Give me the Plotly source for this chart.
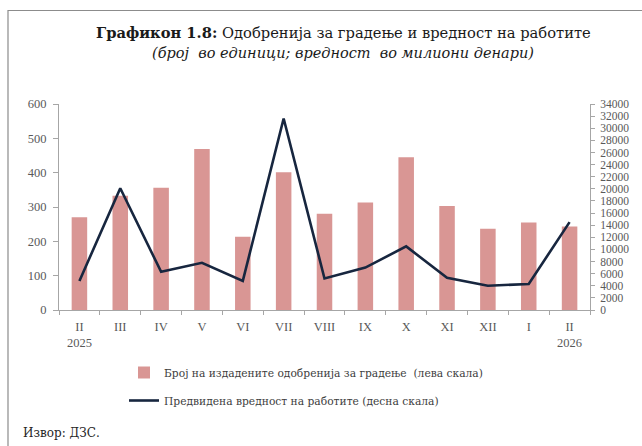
import plotly.graph_objects as go

categories = ["II<br>2025", "III", "IV", "V", "VI", "VII", "VIII", "IX", "X", "XI", "XII", "I", "II<br>2026"]
permits = [270, 333, 356, 469, 213, 401, 280, 313, 445, 303, 237, 255, 243]
value_mkd = [4800, 20100, 6300, 7800, 4800, 31600, 5200, 7000, 10500, 5300, 4000, 4300, 14500]

bar_name = "Број на издадените одобренија за градење  (лева скала)"
line_name = "Предвидена вредност на работите (десна скала)"

W, H = 642, 446
L, R, T, B = 59, 590, 104, 310

def px(x):
    return (x - L) / (R - L)

def py(y):
    return (B - y) / (B - T)

font_serif = "Liberation Serif, DejaVu Serif, serif"
font_wide = "DejaVu Serif, Liberation Serif, serif"
tick_col = "#595959"
axis_col = "#A6A6A6"

fig = go.Figure()
fig.add_trace(go.Bar(
    x=categories, y=permits, name=bar_name,
    marker=dict(color="#D99694", line=dict(width=0)),
    width=0.38, yaxis="y", legendgroup="a",
))
fig.add_trace(go.Scatter(
    x=categories, y=value_mkd, name=line_name, mode="lines",
    line=dict(color="#17263F", width=2.6), yaxis="y2", legendgroup="b",
))

fig.update_layout(
    width=W, height=H,
    margin=dict(l=L, r=W - R, t=T, b=H - B, autoexpand=False),
    paper_bgcolor="white", plot_bgcolor="white",
    font=dict(family=font_serif, size=12, color=tick_col),
    showlegend=True,
    legend=dict(
        xref="container", yref="container",
        x=124 / W, y=1 - 358 / H, xanchor="left", yanchor="top",
        orientation="v", traceorder="grouped", tracegroupgap=9,
        font=dict(family=font_wide, size=10.7, color="#404040"),
        itemwidth=30, bgcolor="rgba(0,0,0,0)",
    ),
    xaxis=dict(
        type="category", showgrid=False, showline=True, linecolor=axis_col,
        ticks="outside", tickson="boundaries", ticklen=4, tickcolor=axis_col,
        tickfont=dict(family=font_serif, size=12.5, color=tick_col),
        ticklabelstandoff=5,
        range=[-0.5, 12.5],
    ),
    yaxis=dict(
        range=[0, 600], dtick=100, showgrid=False, showline=True,
        linecolor=axis_col, ticks="outside", ticklen=5, tickcolor=axis_col,
        tickfont=dict(family=font_serif, size=12.5, color=tick_col),
        ticklabelstandoff=4,
        zeroline=False,
    ),
    yaxis2=dict(
        range=[0, 34000], dtick=2000, overlaying="y", side="right",
        showgrid=False, showline=True, linecolor=axis_col, ticks="outside",
        ticklen=4, tickcolor=axis_col, tickformat="d",
        tickfont=dict(family=font_serif, size=11.5, color=tick_col),
        ticklabelstandoff=3,
        zeroline=False,
    ),
    bargap=0.6,
)

fig.add_annotation(
    x=px(343), y=py(33), xref="paper", yref="paper", showarrow=False,
    xanchor="center", yanchor="middle",
    text="<b>Графикон 1.8:</b> Одобренија за градење и вредност на работите",
    font=dict(family=font_wide, size=14.7, color="#1a1a1a"),
)
fig.add_annotation(
    x=px(343), y=py(53), xref="paper", yref="paper", showarrow=False,
    xanchor="center", yanchor="middle",
    text="<i>(број  во единици; вредност  во милиони денари)</i>",
    font=dict(family=font_wide, size=14.5, color="#1a1a1a"),
)
fig.add_annotation(
    x=px(21), y=py(433), xref="paper", yref="paper", showarrow=False,
    xanchor="left", yanchor="middle", text="Извор: ДЗС.",
    font=dict(family=font_wide, size=12, color="#262626"),
)
fig.add_shape(
    type="rect", xref="paper", yref="paper",
    x0=px(8), x1=px(660), y0=py(470), y1=py(10.5),
    line=dict(color="#8C8C8C", width=1.2), fillcolor="rgba(0,0,0,0)",
)

fig.write_html(
    "out.html",
    config={"displayModeBar": False},
    post_script="document.body.style.margin='0';document.body.style.overflow='hidden';",
)
